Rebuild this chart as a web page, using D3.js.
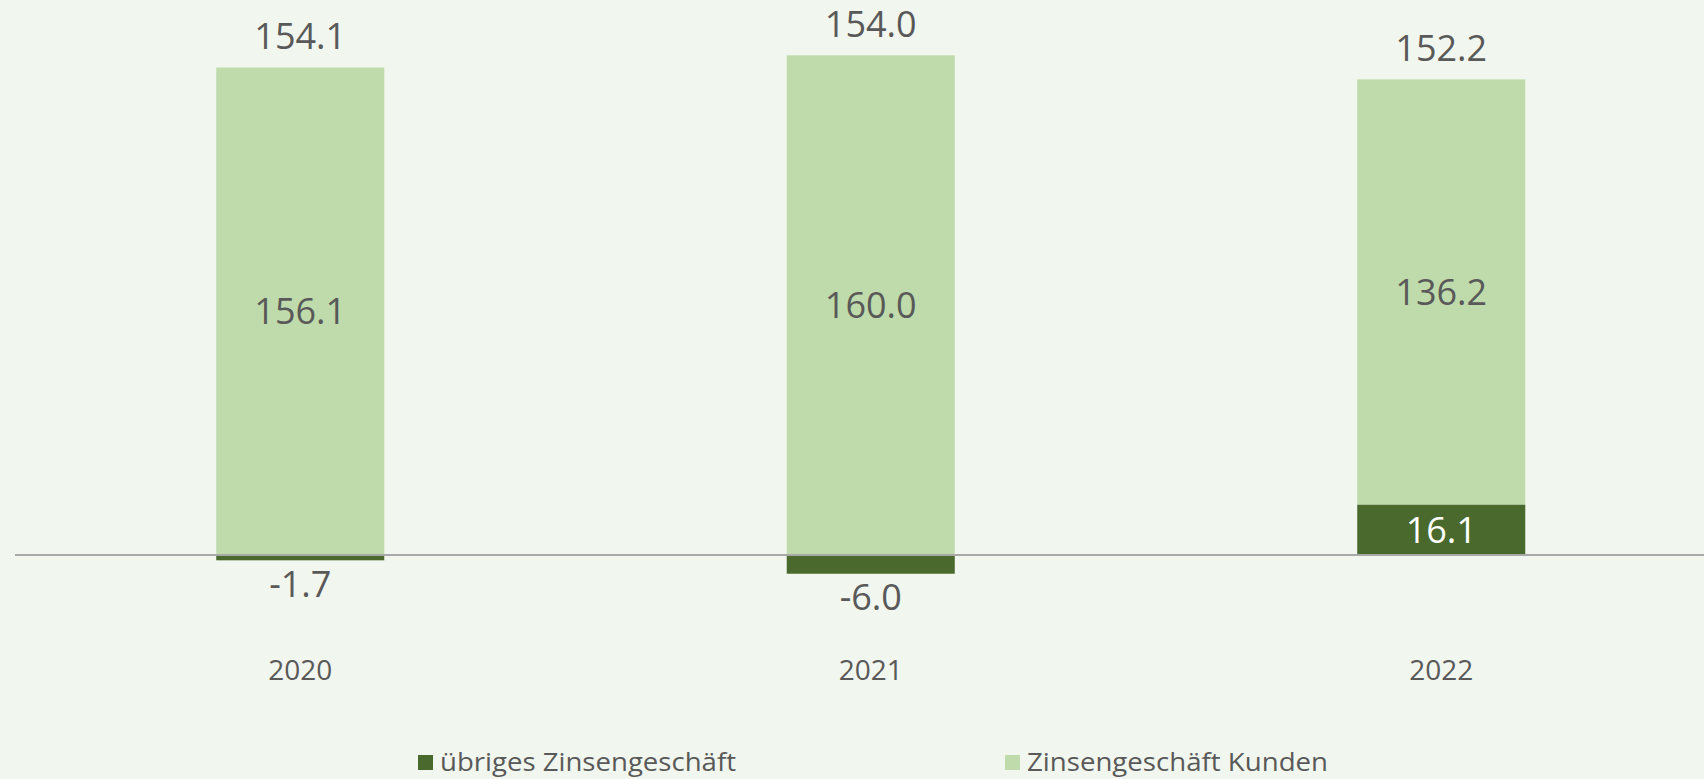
<!DOCTYPE html>
<html><head><meta charset="utf-8">
<script src="https://cdn.jsdelivr.net/npm/d3@7"></script>
<style>html,body{margin:0;padding:0;background:#f1f6ee;overflow:hidden}</style>
</head><body>
<svg id="c" width="1704" height="779"></svg>
<script>
const years = ["2020", "2021", "2022"];
const kunden = [156.1, 160.0, 136.2];
const uebrige = [-1.7, -6.0, 16.1];
const totals = [154.1, 154.0, 152.2];
const seriesNames = ["übriges Zinsengeschäft", "Zinsengeschäft Kunden"];

const colors = {dark: "#4a692d", light: "#bfdbab", text: "#595959", axis: "#a8a8a8", bg: "#f1f6ee"};
const fmt = v => v.toFixed(1);
const svg = d3.select("#c");
svg.append("rect").attr("width", 1704).attr("height", 779).attr("fill", colors.bg);

const k = 3.123, zeroY = 555;
const y = d3.scaleLinear().domain([-20, 170]).range([zeroY + 20 * k, zeroY - 170 * k]);
const x = d3.scaleBand().domain(years).range([15, 1726.5]).paddingInner(0.7055).paddingOuter(0.35275);
const bw = x.bandwidth();

const rows = years.map((yr, i) => {
  const u = uebrige[i], kd = kunden[i];
  const uBase = 0, uTop = u;
  const kBase = Math.max(0, u), kTop = kBase + kd;
  return {yr, u, kd, uBase, uTop, kBase, kTop, total: totals[i]};
});

const g = svg.append("g");
g.selectAll("rect.k").data(rows).join("rect").attr("class", "k")
  .attr("x", d => x(d.yr)).attr("width", bw)
  .attr("y", d => y(d.kTop)).attr("height", d => y(d.kBase) - y(d.kTop))
  .attr("fill", colors.light);
g.selectAll("rect.u").data(rows).join("rect").attr("class", "u")
  .attr("x", d => x(d.yr)).attr("width", bw)
  .attr("y", d => y(Math.max(d.uBase, d.uTop))).attr("height", d => Math.abs(y(d.uTop) - y(d.uBase)))
  .attr("fill", colors.dark);

svg.append("line").attr("x1", 15).attr("x2", 1704).attr("y1", y(0)).attr("y2", y(0))
  .attr("stroke", colors.axis).attr("stroke-width", 2);

const font = "'Open Sans', 'Noto Sans', sans-serif";
const lab = svg.append("g").attr("font-family", font).attr("text-anchor", "middle");

lab.selectAll("text.t").data(rows).join("text").attr("class", "t")
  .attr("x", d => x(d.yr) + bw / 2).attr("y", d => y(d.kTop) - 18)
  .attr("font-size", 36).attr("fill", colors.text).text(d => fmt(d.total));

lab.selectAll("text.kl").data(rows).join("text").attr("class", "kl")
  .attr("x", d => x(d.yr) + bw / 2).attr("y", d => (y(d.kTop) + y(d.kBase)) / 2)
  .attr("dy", "0.36em")
  .attr("font-size", 36).attr("fill", colors.text).text(d => fmt(d.kd));

lab.selectAll("text.ul").data(rows).join("text").attr("class", "ul")
  .attr("x", d => x(d.yr) + bw / 2)
  .attr("y", d => d.u < 0 ? y(d.u) + 36.5 : (y(d.uTop) + y(d.uBase)) / 2)
  .attr("dy", d => d.u < 0 ? 0 : "0.36em")
  .attr("font-size", 36).attr("fill", d => d.u < 0 ? colors.text : "#ffffff").text(d => fmt(d.u));

const xAxis = d3.axisBottom(x).tickSize(0).tickPadding(0);
const ax = svg.append("g").attr("transform", "translate(0,660)").call(xAxis);
ax.select(".domain").remove();
ax.selectAll("text").attr("font-family", font).attr("font-size", 28).attr("fill", colors.text)
  .attr("dy", "0.72em");

const legX = [418, 1005];
const legW = [296, 301];
const leg = svg.append("g");
seriesNames.forEach((name, i) => {
  leg.append("rect").attr("x", legX[i]).attr("y", 755).attr("width", 15).attr("height", 15)
    .attr("fill", i === 0 ? colors.dark : colors.light);
  leg.append("text").attr("x", legX[i] + 22).attr("y", 771)
    .attr("font-family", font).attr("font-size", 25).attr("fill", colors.text)
    .attr("textLength", legW[i]).attr("lengthAdjust", "spacingAndGlyphs")
    .text(name);
});
</script>
</body></html>
